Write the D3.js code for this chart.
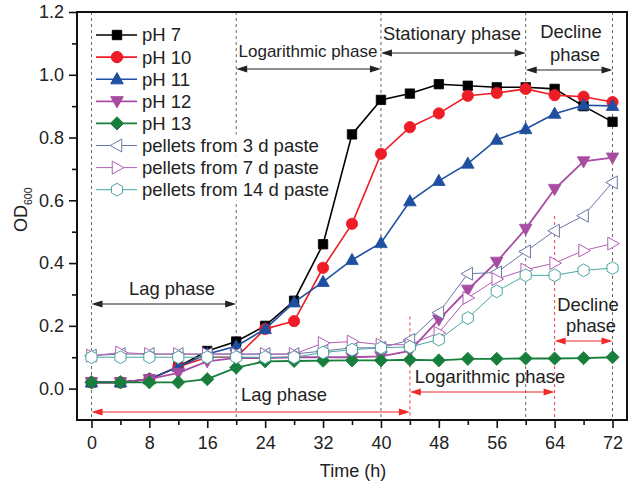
<!DOCTYPE html>
<html>
<head>
<meta charset="utf-8">
<script src="https://cdn.jsdelivr.net/npm/d3@7"></script>
<style>
  body { margin: 0; background: #fff; }
  svg { display: block; font-family: "Liberation Sans", Arial, sans-serif; }
</style>
</head>
<body>
<svg id="chart" width="641" height="487"></svg>
<script>
// Sampling times (h)
const hours = [0, 4, 8, 12, 16, 20, 24, 28, 32, 36, 40, 44, 48, 52, 56, 60, 64, 68, 72];

// OD600 readings per culture
const ph7  = [0.02, 0.02, 0.03, 0.07, 0.12, 0.15, 0.20, 0.28, 0.46, 0.81, 0.92, 0.94, 0.97, 0.965, 0.96, 0.96, 0.955, 0.90, 0.85];
const ph10 = [0.02, 0.02, 0.03, 0.07, 0.10, 0.10, 0.19, 0.215, 0.385, 0.525, 0.748, 0.833, 0.877, 0.933, 0.942, 0.955, 0.935, 0.93, 0.913];
const ph11 = [0.02, 0.02, 0.03, 0.07, 0.11, 0.135, 0.19, 0.275, 0.34, 0.41, 0.464, 0.597, 0.662, 0.717, 0.793, 0.827, 0.876, 0.903, 0.901];
const ph12 = [0.02, 0.02, 0.03, 0.05, 0.087, 0.098, 0.097, 0.10, 0.10, 0.10, 0.103, 0.12, 0.22, 0.315, 0.404, 0.509, 0.636, 0.724, 0.736];
const ph13 = [0.02, 0.02, 0.02, 0.02, 0.03, 0.067, 0.087, 0.088, 0.089, 0.09, 0.09, 0.092, 0.09, 0.095, 0.095, 0.096, 0.096, 0.097, 0.10];
const paste3  = [0.105, 0.11, 0.11, 0.11, 0.11, 0.11, 0.11, 0.11, 0.12, 0.13, 0.13, 0.155, 0.242, 0.366, 0.37, 0.437, 0.503, 0.551, 0.657];
const paste7  = [0.105, 0.115, 0.11, 0.11, 0.11, 0.11, 0.11, 0.11, 0.145, 0.15, 0.14, 0.14, 0.178, 0.289, 0.349, 0.379, 0.40, 0.44, 0.462];
const paste14 = [0.10, 0.10, 0.10, 0.10, 0.10, 0.10, 0.10, 0.10, 0.115, 0.124, 0.13, 0.133, 0.156, 0.225, 0.31, 0.361, 0.361, 0.377, 0.384];

const seriesNames = ["pH 7", "pH 10", "pH 11", "pH 12", "pH 13",
  "pellets from 3 d paste", "pellets from 7 d paste", "pellets from 14 d paste"];

const xTicks = [0, 8, 16, 24, 32, 40, 48, 56, 64, 72];
const xMinor = [4, 12, 20, 28, 36, 44, 52, 60, 68];
const yTicks = [0, 0.2, 0.4, 0.6, 0.8, 1.0, 1.2];
const yMinor = [0.1, 0.3, 0.5, 0.7, 0.9, 1.1];

// Phase boundaries (h)
const grayLines = [0, 20, 40, 60, 72];
const redLines = [{ t: 44, from: 0.23 }, { t: 64, from: 0.55 }];

const series = [
  { name: seriesNames[0], values: ph7,  color: "#000000", shape: "square",  filled: true,  width: 1.6 },
  { name: seriesNames[1], values: ph10, color: "#ee1c25", shape: "circle",  filled: true,  width: 1.6 },
  { name: seriesNames[2], values: ph11, color: "#1f4fa0", shape: "triUp",   filled: true,  width: 1.6 },
  { name: seriesNames[3], values: ph12, color: "#a64ca2", shape: "triDown", filled: true,  width: 1.8 },
  { name: seriesNames[4], values: ph13, color: "#177f3b", shape: "diamond", filled: true,  width: 1.8 },
  { name: seriesNames[5], values: paste3,  color: "#6a78a6", shape: "triLeft",  filled: false, width: 1 },
  { name: seriesNames[6], values: paste7,  color: "#b060b4", shape: "triRight", filled: false, width: 1 },
  { name: seriesNames[7], values: paste14, color: "#4aa6a3", shape: "hexagon",  filled: false, width: 1 }
];

const svg = d3.select("#chart");
const plotLeft = 77, plotRight = 627, plotTop = 12, plotBottom = 420;

const x = d3.scaleLinear().domain([-2, 74]).range([plotLeft, plotRight]);
const y = d3.scaleLinear().domain([-0.1, 1.2]).range([plotBottom, plotTop]);

// Marker outlines centred on the origin
function markerPath(shape) {
  switch (shape) {
    case "square": { const s = 4.7; return `M${-s},${-s}H${s}V${s}H${-s}Z`; }
    case "circle": return d3.symbol(d3.symbolCircle, 100)();
    case "triUp":   { const r = 6.6; return `M0,${-r}L${r*0.95},${r*0.7}L${-r*0.95},${r*0.7}Z`; }
    case "triDown": { const r = 6.6; return `M0,${r}L${r*0.95},${-r*0.7}L${-r*0.95},${-r*0.7}Z`; }
    case "diamond": { const r = 6.6; return `M0,${-r}L${r},0L0,${r}L${-r},0Z`; }
    case "triLeft":  { const r = 6.8; return `M${-r},0L${r*0.7},${-r*0.95}L${r*0.7},${r*0.95}Z`; }
    case "triRight": { const r = 6.8; return `M${r},0L${-r*0.7},${-r*0.95}L${-r*0.7},${r*0.95}Z`; }
    case "hexagon": {
      const r = 6.4;
      const pts = d3.range(6).map(i => {
        const a = Math.PI / 2 + i * Math.PI / 3;
        return [r * Math.cos(a), r * Math.sin(a)];
      });
      return "M" + pts.map(p => p.join(",")).join("L") + "Z";
    }
  }
}

// Phase guide lines
const guides = svg.append("g");
guides.selectAll("line.gray").data(grayLines).join("line").attr("class", "gray")
  .attr("x1", d => x(d)).attr("x2", d => x(d))
  .attr("y1", plotTop).attr("y2", plotBottom)
  .attr("stroke", "#666").attr("stroke-width", 1).attr("stroke-dasharray", "3,3");
guides.selectAll("line.red").data(redLines).join("line").attr("class", "red")
  .attr("x1", d => x(d.t)).attr("x2", d => x(d.t))
  .attr("y1", d => y(d.from)).attr("y2", plotBottom)
  .attr("stroke", "#ee3a3a").attr("stroke-width", 1).attr("stroke-dasharray", "3,3");

// Double-headed phase arrows
function arrow(t1, t2, yPix, color) {
  const x1 = x(t1), x2 = x(t2), L = 11, W = 3.6;
  const g = svg.append("g");
  g.append("line").attr("x1", x1 + 4).attr("x2", x2 - 4).attr("y1", yPix).attr("y2", yPix)
    .attr("stroke", color).attr("stroke-width", 1.2);
  g.append("path").attr("d", `M${x1},${yPix}L${x1 + L},${yPix - W}L${x1 + L},${yPix + W}Z`).attr("fill", color);
  g.append("path").attr("d", `M${x2},${yPix}L${x2 - L},${yPix - W}L${x2 - L},${yPix + W}Z`).attr("fill", color);
}
function label(text, cx, baseline, size) {
  svg.append("text").attr("x", cx).attr("y", baseline).attr("text-anchor", "middle")
    .attr("font-size", size || 18.4).attr("fill", "#222").text(text);
}

const red = "#ee2a2a";
arrow(0, 20, 304, "#222");
label("Lag phase", 172, 295);
arrow(20, 40, 69, "#222");
label("Logarithmic phase", 308, 57, 17);
arrow(40, 60, 53, "#222");
label("Stationary phase", 452, 40);
arrow(60, 72, 70, "#222");
label("Decline", 571, 38);
label("phase", 575, 61);

arrow(0, 44, 412, red);
label("Lag phase", 284, 401);
arrow(44, 64, 392, red);
label("Logarithmic phase", 490, 383);
arrow(64, 72, 341, red);
label("Decline", 588, 311);
label("phase", 591, 332);

// Series lines and markers
const line = d3.line().x((d, i) => x(hours[i])).y(d => y(d));
const plot = svg.append("g");
series.forEach(s => {
  const g = plot.append("g");
  g.append("path").attr("d", line(s.values)).attr("fill", "none")
    .attr("stroke", s.color).attr("stroke-width", s.width);
  g.selectAll("path.m").data(s.values).join("path").attr("class", "m")
    .attr("transform", (d, i) => `translate(${x(hours[i])},${y(d)})`)
    .attr("d", markerPath(s.shape))
    .attr("fill", s.filled ? s.color : "#fff")
    .attr("stroke", s.color).attr("stroke-width", s.filled ? 0.8 : 1);
});

// Axes
svg.append("g").attr("transform", `translate(0,${plotBottom})`)
  .call(d3.axisBottom(x).tickValues(xTicks).tickSize(8).tickSizeOuter(0).tickPadding(8));
svg.append("g").attr("transform", `translate(0,${plotBottom})`)
  .call(d3.axisBottom(x).tickValues(xMinor).tickSize(5).tickSizeOuter(0).tickFormat(""));
svg.append("g").attr("transform", `translate(${plotLeft},0)`)
  .call(d3.axisLeft(y).tickValues(yTicks).tickFormat(d3.format(".1f")).tickSize(8).tickSizeOuter(0).tickPadding(5));
svg.append("g").attr("transform", `translate(${plotLeft},0)`)
  .call(d3.axisLeft(y).tickValues(yMinor).tickSize(5).tickSizeOuter(0).tickFormat(""));
svg.selectAll(".domain").remove();
svg.selectAll(".tick line").attr("stroke", "#111").attr("stroke-width", 1.6);
svg.selectAll(".tick text").attr("font-size", 18).attr("fill", "#222")
  .attr("font-family", "'Liberation Sans', Arial, sans-serif");

// Plot frame
svg.append("rect").attr("x", plotLeft).attr("y", plotTop)
  .attr("width", plotRight - plotLeft).attr("height", plotBottom - plotTop)
  .attr("fill", "none").attr("stroke", "#111").attr("stroke-width", 2);

// Axis titles
svg.append("text").attr("x", 353).attr("y", 477).attr("text-anchor", "middle")
  .attr("font-size", 18).attr("fill", "#222").text("Time (h)");
const yt = svg.append("text").attr("transform", "translate(27,232) rotate(-90)")
  .attr("font-size", 18).attr("fill", "#222");
yt.append("tspan").text("OD");
yt.append("tspan").attr("font-size", 10.5).attr("dy", 4.5).text("600");

// Legend
const legend = svg.append("g");
series.forEach((s, i) => {
  const ly = 35 + i * 22.1;
  const row = legend.append("g");
  const bg = row.append("rect").attr("fill", "#fff");
  row.append("line").attr("x1", 96).attr("x2", 137).attr("y1", ly).attr("y2", ly)
    .attr("stroke", s.color).attr("stroke-width", s.width);
  row.append("path").attr("transform", `translate(117,${ly})`).attr("d", markerPath(s.shape))
    .attr("fill", s.filled ? s.color : "#fff").attr("stroke", s.color).attr("stroke-width", 1);
  const t = row.append("text").attr("x", 142).attr("y", ly).attr("dy", "0.35em")
    .attr("font-size", 18.5).attr("fill", "#222").text(s.name);
  const bb = t.node().getBBox();
  bg.attr("x", 95).attr("y", ly - 11).attr("width", bb.x + bb.width - 95 + 2).attr("height", 22);
});
</script>
</body>
</html>
